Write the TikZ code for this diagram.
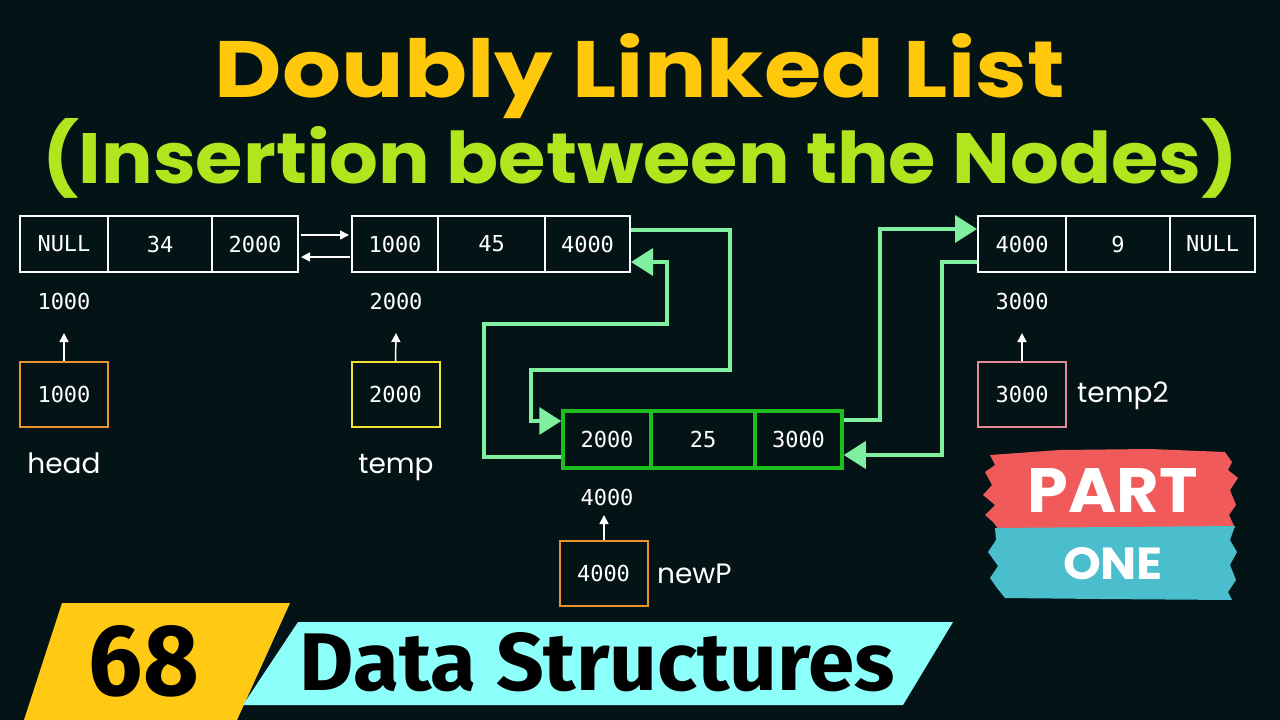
\documentclass[tikz,border=0pt]{standalone}
\usepackage{fontspec}
\setmainfont{Poppins}
\newfontfamily\monof{DejaVu Sans Mono}
\newfontfamily\popf{Poppins}
\newfontfamily\firaf{Fira Sans}
\usetikzlibrary{arrows.meta}
\definecolor{bg}{RGB}{4,20,22}
\definecolor{ytitle}{RGB}{255,200,10}
\definecolor{gtitle}{RGB}{176,230,30}
\definecolor{gnode}{RGB}{30,190,30}
\definecolor{lgreen}{RGB}{128,240,160}
\definecolor{porange}{RGB}{232,146,43}
\definecolor{pyellow}{RGB}{240,225,50}
\definecolor{ppink}{RGB}{229,138,154}
\definecolor{pred}{RGB}{240,90,90}
\definecolor{pteal}{RGB}{75,190,205}
\definecolor{byellow}{RGB}{255,201,20}
\definecolor{bcyan}{RGB}{140,255,250}
\begin{document}
\begin{tikzpicture}[x=1pt,y=-1pt,
  cell/.style={draw=white, line width=2pt, minimum height=56pt, inner sep=0pt,
    font=\monof\fontsize{22}{26}\selectfont, text=white},
  gcell/.style={cell, draw=gnode, line width=3.5pt, minimum height=57pt},
  ptrbox/.style={draw=#1, line width=2pt, minimum width=88pt, minimum height=65pt,
    inner sep=0pt, font=\monof\fontsize{22}{26}\selectfont, text=white},
  addr/.style={font=\monof\fontsize{22}{26}\selectfont, text=white, inner sep=0pt},
  lbl/.style={font=\popf\fontsize{28}{32}\selectfont, text=white, inner sep=0pt},
  link/.style={draw=lgreen, line width=3.5pt, -{Triangle[length=22pt,width=27pt]}},
  wlink/.style={draw=white, line width=1.5pt, -{Triangle[length=9pt,width=9pt]}}
]
\useasboundingbox[fill=bg] (0,0) rectangle (1280,720);

% titles
\node[text=ytitle, inner sep=0pt, anchor=base] (t1) at (640,97)
  {\resizebox{850pt}{64pt}{\popf\bfseries Doubly Linked List}};
\node[text=gtitle, inner sep=0pt, anchor=base] (t2) at (640,183)
  {\resizebox{1195pt}{65pt}{\popf\bfseries (Insertion between the Nodes)}};

% list nodes
\node[cell, minimum width=88pt] (a1) at (64,244) {NULL};
\node[cell, minimum width=104pt] (a2) at (160,244) {34};
\node[cell, minimum width=86pt] (a3) at (255,244) {2000};

\node[cell, minimum width=86pt] (b1) at (395,244) {1000};
\node[cell, minimum width=107pt] (b2) at (491.5,244) {45};
\node[cell, minimum width=85pt] (b3) at (587.5,244) {4000};

\node[cell, minimum width=88pt] (c1) at (1022,244) {4000};
\node[cell, minimum width=104pt] (c2) at (1118,244) {9};
\node[cell, minimum width=85pt] (c3) at (1212.5,244) {NULL};

\node[gcell, minimum width=88pt] (g1) at (607,439.5) {2000};
\node[gcell, minimum width=104pt] (g2) at (703,439.5) {25};
\node[gcell, minimum width=87pt] (g3) at (798.5,439.5) {3000};

% addresses
\node[addr] (ad1) at (64,301) {1000};
\node[addr] (ad2) at (396,301) {2000};
\node[addr] (ad3) at (1022,301) {3000};
\node[addr] (ad4) at (607,497) {4000};

% pointer boxes
\node[ptrbox=porange] (hp) at (64,394.5) {1000};
\node[ptrbox=pyellow] (tp) at (395.5,394.5) {2000};
\node[ptrbox=ppink] (t2p) at (1022,394) {3000};
\node[ptrbox=porange] (np) at (603.5,573.5) {4000};

\node[lbl, anchor=base] (lh) at (64,473) {head};
\node[lbl, anchor=base] (lt) at (396,473) {temp};
\node[lbl, anchor=base west] (lt2) at (1077,402) {temp2};
\node[lbl, anchor=base west] (ln) at (657,583) {newP};

% pointer arrows
\draw[wlink] (hp.north) -- ([yshift=-32pt]ad1.center);
\draw[wlink] (tp.north) -- ([yshift=-32pt]ad2.center);
\draw[wlink] (t2p.north) -- ([yshift=-32pt]ad3.center);
\draw[wlink] ([xshift=0.5pt]np.north) -- ([xshift=-3pt,yshift=-18pt]ad4.center);

% links between first two nodes
\draw[wlink] ([yshift=9pt,xshift=2pt]a3.east) -- ([yshift=9pt,xshift=-2pt]b1.west);
\draw[wlink] ([yshift=-13pt,xshift=-1pt]b1.west) -- ([yshift=-13pt,xshift=2pt]a3.east);

% green links
\draw[link] ([yshift=14pt]b3.east) -- (730,230) -- (730,370) -- (531,370) -- (531,421) -- ([yshift=18.5pt]g1.west);
\draw[link] ([yshift=-17.5pt]g1.west) -- (484,457) -- (484,324) -- (667,324) -- (667,262) -- ([yshift=-18pt]b3.east);
\draw[link] ([yshift=19.5pt]g3.east) -- (880,420) -- (880,229) -- ([yshift=15pt]c1.west);
\draw[link] ([yshift=-18pt]c1.west) -- (942,262) -- (942,455) -- ([yshift=-15.5pt]g3.east);

% PART ONE badge
\fill[pred] (990,455) -- (1060,450) -- (1150,449) -- (1225,452) -- (1232,462) -- (1228,470) -- (1238,478) -- (1230,490) -- (1236,505) -- (1229,515) -- (1235,528) -- (1120,530) -- (1000,531) -- (993,522) -- (985,515) -- (995,505) -- (983,495) -- (992,485) -- (985,472) -- (995,465) -- cycle;
\fill[pteal] (995,528) -- (1235,526) -- (1230,540) -- (1237,552) -- (1230,565) -- (1236,580) -- (1228,592) -- (1232,600) -- (1100,599) -- (1005,598) -- (997,588) -- (990,578) -- (998,566) -- (988,552) -- (996,540) -- cycle;
\node[text=white, inner sep=0pt, anchor=base] (part) at (1113,512)
  {\resizebox{170pt}{44pt}{\popf\bfseries PART}};
\node[text=white, inner sep=0pt, anchor=base] (one) at (1113,579)
  {\resizebox{100pt}{32pt}{\popf\bfseries ONE}};

% bottom banner
\fill[byellow] (62,603) -- (290,603) -- (237,720) -- (24,720) -- cycle;
\fill[bcyan] (298,622) -- (953,622) -- (903,705) -- (243,705) -- cycle;
\node[text=black, inner sep=0pt, anchor=base] (num) at (144,695)
  {\resizebox{110pt}{70pt}{\firaf\bfseries 68}};
\node[text=black, inner sep=0pt, anchor=base] (ds) at (597.5,690)
  {\resizebox{595pt}{58pt}{\firaf\bfseries Data Structures}};
\end{tikzpicture}
\end{document}
